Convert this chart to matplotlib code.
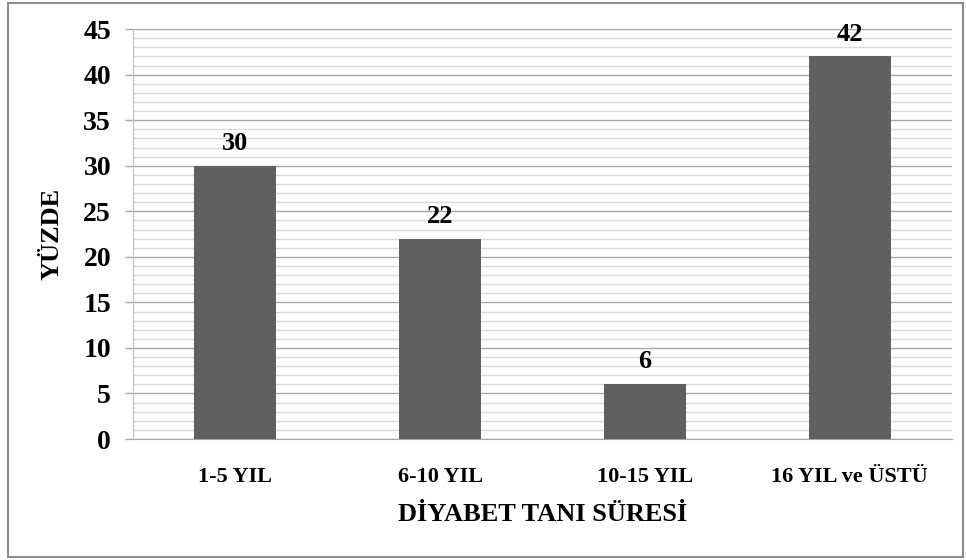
import matplotlib

matplotlib.use("Agg")
import matplotlib.pyplot as plt
import numpy as np
from matplotlib.patches import Rectangle
from matplotlib.ticker import MultipleLocator

categories = ["1-5 YIL", "6-10 YIL", "10-15 YIL", "16 YIL ve ÜSTÜ"]
percentages = [30, 22, 6, 42]
y_ticks = [0, 5, 10, 15, 20, 25, 30, 35, 40, 45]

plt.rcParams["font.family"] = ["Liberation Serif", "DejaVu Serif"]
plt.rcParams["font.weight"] = "bold"

fig = plt.figure(figsize=(9.66, 5.6), dpi=100)
ax = fig.add_axes([0.1377, 0.216, 0.8478, 0.732])

x = np.arange(len(categories))
bars = ax.bar(x, percentages, width=0.4, color="#606060", zorder=3)

for bar, val in zip(bars, percentages):
    ax.text(bar.get_x() + bar.get_width() / 2, val + 1.2, f"{val}",
            ha="center", va="bottom", fontsize=19, fontweight="bold")

ax.set_xlim(-0.5, len(categories) - 0.5)
ax.set_ylim(0, 45)
ax.set_yticks(y_ticks)
ax.yaxis.set_minor_locator(MultipleLocator(1))
ax.grid(axis="y", which="major", color="#a6a6a6", linewidth=1.0, zorder=0)
ax.grid(axis="y", which="minor", color="#d9d9d9", linewidth=1.0, zorder=0)
ax.set_xticks(x)
ax.set_xticklabels(categories, fontsize=16, fontweight="bold")
ax.tick_params(axis="x", length=0, pad=20)
ax.tick_params(axis="y", which="major", length=5.8, width=1, color="#a6a6a6",
               labelsize=20, pad=10)
ax.tick_params(axis="y", which="minor", length=0)
for lbl in ax.get_yticklabels():
    lbl.set_fontweight("bold")

for side in ["top", "right"]:
    ax.spines[side].set_visible(False)
ax.spines["left"].set_color("#bfbfbf")
ax.spines["bottom"].set_color("#a6a6a6")

ax.set_xlabel("DİYABET TANI SÜRESİ", fontsize=19, fontweight="bold", labelpad=12)
ax.set_ylabel("YÜZDE", fontsize=19, fontweight="bold", labelpad=14)

# outer chart border
fig.patches.append(Rectangle((0.008, 0.005), 0.989, 0.99, transform=fig.transFigure,
                             fill=False, edgecolor="#8c8c8c", linewidth=1.5))

fig.savefig("out.png", dpi=100)
